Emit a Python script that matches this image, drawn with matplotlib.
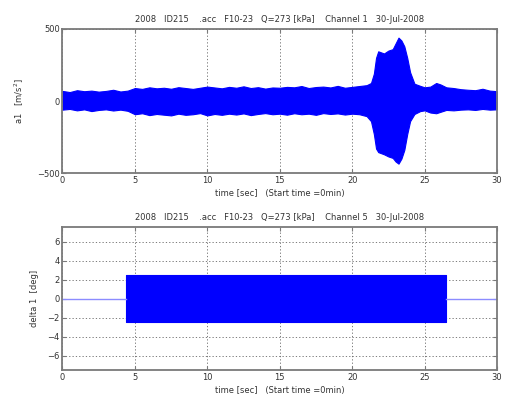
import matplotlib
matplotlib.use("Agg")
import matplotlib.pyplot as plt

# ---- channel 1: acceleration envelope (upper / lower limits of the trace) ----
acc_time = [0.0, 0.5, 1.0, 1.5, 2.0, 2.5, 3.0, 3.5, 4.0, 4.5, 5.0, 5.5, 6.0, 6.5,
            7.0, 7.5, 8.0, 8.5, 9.0, 9.5, 10.0, 10.5, 11.0, 11.5, 12.0, 12.5,
            13.0, 13.5, 14.0, 14.5, 15.0, 15.5, 16.0, 16.5, 17.0, 17.5, 18.0,
            18.5, 19.0, 19.5, 20.0, 20.5, 21.0, 21.3, 21.5, 21.65, 21.8, 22.2,
            22.5, 22.8, 23.0, 23.2, 23.4, 23.6, 23.8, 24.0, 24.3, 24.7, 25.0,
            25.4, 25.8, 26.1, 26.5, 27.0, 27.5, 28.0, 28.5, 29.0, 29.5, 30.0]
acc_upper = [70, 62, 75, 68, 72, 65, 70, 78, 66, 72, 90, 84, 95, 88,
             92, 85, 96, 90, 84, 92, 100, 94, 88, 98, 92, 102,
             90, 96, 86, 94, 92, 98, 95, 104, 90, 97, 100,
             94, 105, 92, 98, 104, 110, 125, 190, 300, 345, 330,
             350, 360, 400, 440, 420, 380, 300, 200, 120, 105, 95,
             100, 125, 115, 95, 90, 82, 78, 75, 85, 72, 68]
acc_lower = [-60, -55, -65, -58, -70, -62, -58, -66, -60, -68, -92, -85, -98, -90,
             -95, -100, -88, -96, -92, -84, -100, -90, -96, -88, -94, -86,
             -98, -90, -84, -92, -88, -95, -85, -92, -88, -96, -84,
             -90, -86, -94, -88, -92, -105, -140, -230, -330, -355, -370,
             -385, -395, -420, -435, -400, -340, -230, -140, -90, -70, -65,
             -80, -85, -75, -62, -65, -60, -58, -62, -55, -60, -58]

# ---- channel 5: steering angle (constant-amplitude oscillation) ----
delta_start = 4.4
delta_end = 26.5
delta_amp = 2.5

title_top = "2008   ID215    .acc   F10-23   Q=273 [kPa]    Channel 1   30-Jul-2008"
title_bottom = "2008   ID215    .acc   F10-23   Q=273 [kPa]    Channel 5   30-Jul-2008"
xlabel_text = "time [sec]   (Start time =0min)"
ylabel_top = "a1   [m/s$^2$]"
ylabel_bottom = "delta 1  [deg]"
xticks = [0, 5, 10, 15, 20, 25, 30]
yticks_top = [-500, 0, 500]
yticks_bottom = [-6, -4, -2, 0, 2, 4, 6]

plt.rcParams['font.family'] = ['DejaVu Sans']
FS = 6.0
FRAME = '#7a7a7a'
BLUE = '#0000ff'

fig = plt.figure(figsize=(5.06, 4.05), dpi=100)
ax1 = fig.add_axes([0.1235, 0.5728, 0.8587, 0.3556])
ax2 = fig.add_axes([0.1235, 0.0864, 0.8587, 0.3523])


def style(ax):
    for s in ax.spines.values():
        s.set_color(FRAME)
        s.set_linewidth(1.3)
    ax.tick_params(direction='in', length=3, width=0.8, colors=FRAME,
                   labelcolor='#333333', labelsize=FS, top=True, right=True, pad=2)
    ax.grid(True, linestyle=(0, (1.5, 2.5)), color='#666666', linewidth=0.6)
    ax.set_axisbelow(True)


ax1.fill_between(acc_time, acc_lower, acc_upper, color=BLUE, linewidth=0.8,
                 edgecolor=BLUE)
ax1.set_xlim(0, 30)
ax1.set_ylim(-500, 500)
ax1.set_xticks(xticks)
ax1.set_yticks(yticks_top)
style(ax1)
ax1.set_title(title_top, fontsize=FS, color='#333333', pad=5)
ax1.set_xlabel(xlabel_text, fontsize=FS, color='#333333', labelpad=3)
ax1.set_ylabel(ylabel_top, fontsize=FS, color='#333333', labelpad=8)

ax2.plot([0, delta_start], [0, 0], color='#8c8cff', linewidth=1.0)
ax2.plot([delta_end, 30], [0, 0], color='#8c8cff', linewidth=1.0)
ax2.fill_between([delta_start, delta_end], [-delta_amp, -delta_amp],
                 [delta_amp, delta_amp], color=BLUE, linewidth=0.8, edgecolor=BLUE)
ax2.set_xlim(0, 30)
ax2.set_ylim(-7.5, 7.5)
ax2.set_xticks(xticks)
ax2.set_yticks(yticks_bottom)
style(ax2)
ax2.set_title(title_bottom, fontsize=FS, color='#333333', pad=5)
ax2.set_xlabel(xlabel_text, fontsize=FS, color='#333333', labelpad=3)
ax2.set_ylabel(ylabel_bottom, fontsize=FS, color='#333333', labelpad=6)

fig.savefig("out.png", dpi=100)
